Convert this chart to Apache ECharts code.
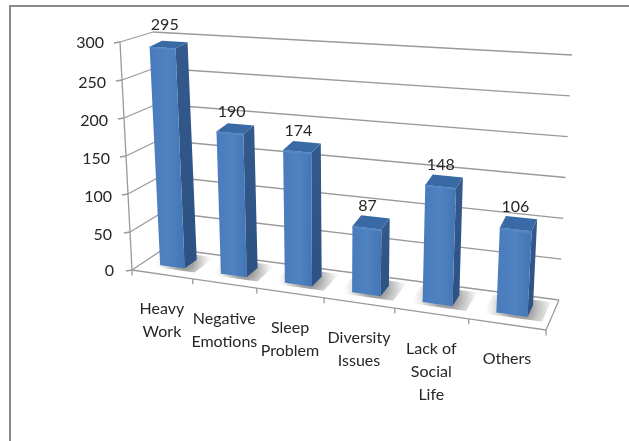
<!DOCTYPE html>
<html>
<head>
<meta charset="utf-8">
<style>html,body{margin:0;padding:0;background:#fff}#chart{width:629px;height:441px}</style>
<script src="https://cdn.jsdelivr.net/npm/echarts@6/dist/echarts.min.js"></script>
</head>
<body>
<div id="chart"></div>
<script>
const categories = ['Heavy\nWork', 'Negative\nEmotions', 'Sleep\nProblem', 'Diversity\nIssues', 'Lack of\nSocial\nLife', 'Others'];
const values = [295, 190, 174, 87, 148, 106];
const yTicks = [0, 50, 100, 150, 200, 250, 300];

const FONT = '16px Lato, sans-serif';
const TEXT = '#262626';
const LINE = '#9a9a9a';

// Eight corners of the chart box on screen: [side][level][depth]
const BOX = {
  left:  { floor: [[132, 270], [165, 248]], ceil: [[120, 42], [153, 32]] },
  right: { floor: [[546, 330], [559, 300]], ceil: [[560, 72], [572, 55]] }
};
const PERSPECTIVE = 0.144;     // narrows the near end of the category run
const BAR_WIDTH = 0.41;        // share of a category band
const BAR_FRONT = 0.33, BAR_BACK = 0.72;  // depth range of a bar
const CHAMFER_FRONT = 0.014, CHAMFER_BACK = 0.005;  // rounded-off top edges

const mix = (p, q, t) => [p[0] + (q[0] - p[0]) * t, p[1] + (q[1] - p[1]) * t];

// u: 0..1 along the categories, v: 0..1 up the value axis, w: 0..1 into the depth
function project(u, v, w) {
  const a = u - PERSPECTIVE * u * (1 - u);
  const side = s => mix(mix(s.floor[0], s.floor[1], w), mix(s.ceil[0], s.ceil[1], w), v);
  return mix(side(BOX.left), side(BOX.right), a);
}

// Reads a data point through the hidden flat grid and returns box fractions
function toBox(api, params, xVal, yVal) {
  const c = api.coord([xVal, yVal]);
  const r = params.coordSys;
  return { u: (c[0] - r.x) / r.width, v: (r.y + r.height - c[1]) / r.height };
}

const poly = (points, fill) => ({ type: 'polygon', shape: { points }, style: { fill } });
const seg = (p, q, width) => ({
  type: 'line', shape: { x1: p[0], y1: p[1], x2: q[0], y2: q[1] },
  style: { stroke: LINE, lineWidth: width || 1.3, fill: null }
});
const label = (text, x, y, align, verticalAlign) => ({
  type: 'text',
  style: { text, x, y, fill: TEXT, font: FONT, align, verticalAlign, lineHeight: 23 }
});

// Value gridlines over the back wall and left wall, with their tick labels
function renderGridLine(params, api) {
  const tick = api.value(1);
  const { v } = toBox(api, params, 0, tick);
  const front = project(0, v, 0), corner = project(0, v, 1), far = project(1, v, 1);
  const lift = (tick === 0 || tick === 300) ? 1 : 3;
  return {
    type: 'group',
    children: [
      seg(front, corner), seg(corner, far),
      seg([front[0] - 6, front[1] + 1], front),
      label(String(tick), front[0] - (tick >= 100 ? 16 : 18), front[1] + lift, 'right', 'middle')
    ]
  };
}

// Floor outline, vertical axis and category ticks with labels
function renderCategory(params, api) {
  const i = api.value(0);
  const band = api.size([1, 0])[0] / params.coordSys.width;
  const { u } = toBox(api, params, i, 0);
  const right = u + band / 2;
  const edge = project(u, 0, 0);
  const tickAt = project(right, 0, 0);
  const children = [
    seg(project(u - band / 2, 0, 0), tickAt),
    seg(tickAt, [tickAt[0], tickAt[1] + 5.5]),
    label(categories[i], edge[0], edge[1] + 35 - 11.5, 'center', 'top')
  ];
  if (i === 0) {
    const o = project(0, 0, 0);
    children.push(seg(o, project(0, 1, 0)), seg(o, [o[0], o[1] + 5.5]));
  }
  if (i === categories.length - 1) {
    children.push(seg(project(1, 0, 0), project(1, 0, 1)));
  }
  return { type: 'group', children };
}

// One bar: soft floor shadow, front, side and top faces
function renderBar(params, api) {
  const i = api.value(0), val = api.value(1);
  const band = api.size([1, 0])[0] / params.coordSys.width;
  const { u, v } = toBox(api, params, i, val);
  const half = band * BAR_WIDTH / 2;
  const L = u - half, R = u + half;
  const fl = (s, d) => project(s, 0, d);
  const vF = v - CHAMFER_FRONT, vB = v - CHAMFER_BACK;
  const centre = project(u, v, 0.5);
  const front = [fl(L, BAR_FRONT), fl(R, BAR_FRONT), project(R, vF, BAR_FRONT), project(L, vF, BAR_FRONT)];
  const side = [fl(R, BAR_FRONT), fl(R, BAR_BACK), project(R, vB, BAR_BACK), project(R, vF, BAR_FRONT)];
  const top = [project(L, vF, BAR_FRONT), project(R, vF, BAR_FRONT), project(R, vB, BAR_BACK), project(L, vB, BAR_BACK)];
  const lip = [project(L, vF, BAR_FRONT), project(R, vF, BAR_FRONT),
    project(R, vF - 0.008, BAR_FRONT), project(L, vF - 0.008, BAR_FRONT)];
  const shadow = [fl(L - half * 0.8, 0.24), fl(R + half * 1.0, 0.24), fl(R + half * 1.0, 0.9), fl(L - half * 0.8, 0.9)];
  return {
    type: 'group',
    children: [
      poly(shadow, {
        type: 'radial', x: 0.55, y: 0.5, r: 1.35,
        colorStops: [
          { offset: 0.3, color: 'rgba(120,120,120,0.7)' },
          { offset: 0.65, color: 'rgba(160,160,160,0.4)' },
          { offset: 1, color: 'rgba(220,220,220,0)' }
        ]
      }),
      poly(side, {
        type: 'linear', x: 0, y: 0, x2: 0, y2: 1,
        colorStops: [{ offset: 0, color: '#34598c' }, { offset: 1, color: '#2c5183' }]
      }),
      poly(front, {
        type: 'linear', x: 0, y: 0, x2: 1, y2: 0,
        colorStops: [
          { offset: 0, color: '#4a7cbd' }, { offset: 0.55, color: '#4f82c1' }, { offset: 1, color: '#4375b4' }
        ]
      }),
      poly(top, '#3a6aa5'),
      poly(lip, '#5587c6'),
      label(String(val), centre[0] - 3, centre[1] - (v > 0.9 ? 18 : 14.5), 'center', 'middle')
    ]
  };
}

const chart = echarts.init(document.getElementById('chart'), null, { renderer: 'canvas' });
chart.setOption({
  animation: false,
  backgroundColor: '#fff',
  grid: { left: 120, top: 42, width: 420, height: 228 },
  xAxis: { type: 'category', data: categories, show: false },
  yAxis: { type: 'value', min: 0, max: 300, interval: 50, show: false },
  graphic: [{
    type: 'polyline', silent: true, z: 0,
    shape: { points: [[10, 441], [10, 6], [629, 6]] },
    style: { stroke: '#8a8a8a', lineWidth: 2, fill: null }
  }],
  series: [
    { type: 'custom', coordinateSystem: 'cartesian2d', silent: true, clip: false, z: 1,
      data: yTicks.map(t => [0, t]), encode: { x: 0, y: 1 }, renderItem: renderGridLine },
    { type: 'custom', coordinateSystem: 'cartesian2d', silent: true, clip: false, z: 2,
      data: categories.map((c, i) => [i, 0]), encode: { x: 0, y: 1 }, renderItem: renderCategory },
    { type: 'custom', coordinateSystem: 'cartesian2d', silent: true, clip: false, z: 3,
      data: values.map((v, i) => [i, v]), encode: { x: 0, y: 1 }, renderItem: renderBar }
  ]
});
</script>
</body>
</html>
